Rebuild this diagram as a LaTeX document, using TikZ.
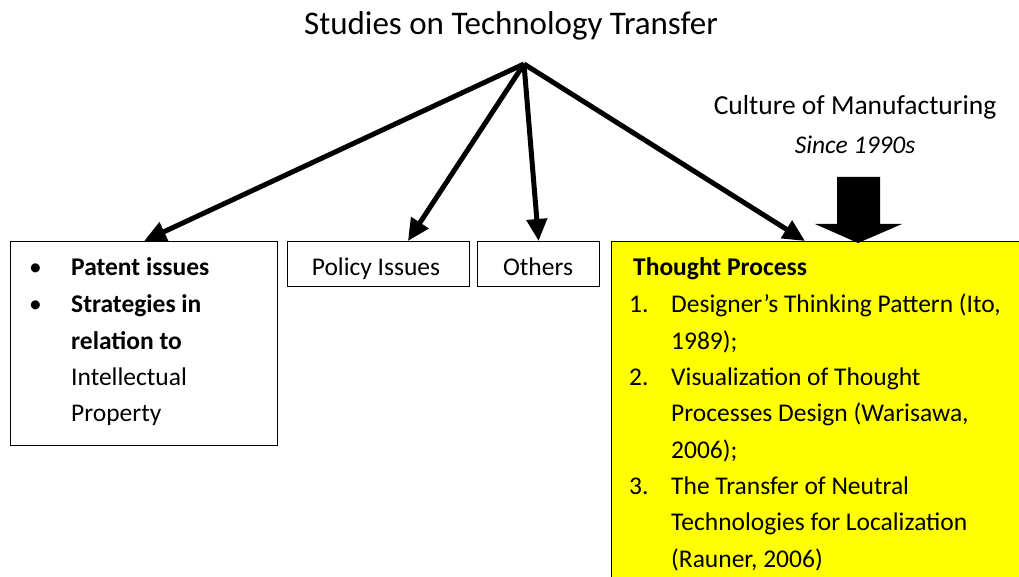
\documentclass[tikz,border=0pt]{standalone}
\usepackage{fontspec}
\setmainfont{Carlito}
\usetikzlibrary{arrows.meta,calc}
\definecolor{boxyellow}{RGB}{255,255,0}
\tikzset{
  box/.style={draw=black,line width=1.2pt,rectangle,inner sep=0pt,anchor=north west},
  txt/.style={inner sep=0pt,anchor=base west,font=\fontsize{25.5}{36}\selectfont},
  ctxt/.style={inner sep=0pt,anchor=base,font=\fontsize{25.5}{36}\selectfont},
  bigarrow/.style={line width=5pt,-{Triangle[length=22pt,width=20pt]}},
}
\begin{document}
\begin{tikzpicture}[x=1pt,y=-1pt]
\clip (0,0) rectangle (1019,577);
\fill[white] (0,0) rectangle (1019,577);
% title
\node[inner sep=0pt,anchor=base,font=\fontsize{33}{38}\selectfont] (title) at (511,35) {Studies on Technology Transfer};
\coordinate (apex) at (524,64);
% boxes
\node[box,minimum width=267pt,minimum height=204pt] (ip) at (10,241) {};
\node[box,minimum width=182pt,minimum height=45pt] (pol) at (287,241) {};
\node[box,minimum width=122pt,minimum height=45pt] (oth) at (477,241) {};
\node[box,fill=boxyellow,minimum width=440pt,minimum height=360pt] (tp) at (611,241) {};
% left box text
\node[txt] (b1) at (29,276) {•};
\node[txt] (b2) at (29,312) {•};
\node[txt] (l1) at (71,276) {\bfseries Patent issues};
\node[txt] (l2) at (71,312) {\bfseries Strategies in};
\node[txt] (l3) at (71,349) {\bfseries relation to};
\node[txt] (l4) at (71,385) {Intellectual};
\node[txt] (l5) at (71,421) {Property};
% small boxes text
\node[ctxt] (polt) at (376,276) {Policy Issues};
\node[ctxt] (otht) at (538,276) {Others};
% yellow box text
\node[txt] (tph) at (633,276) {\bfseries Thought Process};
\node[txt] (n1) at (629,312) {1.};
\node[txt] (t1a) at (671,312) {Designer’s Thinking Pattern (Ito,};
\node[txt] (t1b) at (671,349) {1989);};
\node[txt] (n2) at (629,385) {2.};
\node[txt] (t2a) at (671,385) {Visualization of Thought};
\node[txt] (t2b) at (671,421) {Processes Design (Warisawa,};
\node[txt] (t2c) at (671,458) {2006);};
\node[txt] (n3) at (629,494) {3.};
\node[txt] (t3a) at (671,494) {The Transfer of Neutral};
\node[txt] (t3b) at (671,530) {Technologies for Localization};
\node[txt] (t3c) at (671,567) {(Rauner, 2006)};
% culture label
\node[inner sep=0pt,anchor=base,font=\fontsize{27.5}{36}\selectfont] (cul) at (855,115) {Culture of Manufacturing};
\node[inner sep=0pt,anchor=base,font=\fontsize{25.5}{36}\selectfont] (since) at (855,154) {\itshape Since 1990s};
% connectors
\draw[bigarrow] (apex) -- ($(ip.north west)!0.5!(ip.north east)$);
\draw[bigarrow] (apex) -- ($(pol.north west)!0.66!(pol.north east)$);
\draw[bigarrow] (apex) -- ($(oth.north west)!0.5!(oth.north east)$);
\draw[bigarrow] (apex) -- ($(tp.north west)+(194,0)$);
% block arrow
\fill[black] (837,177) -- (880,177) -- (880,224) -- (902,224) -- (858,243) -- (815,224) -- (837,224) -- cycle;
\end{tikzpicture}
\end{document}
